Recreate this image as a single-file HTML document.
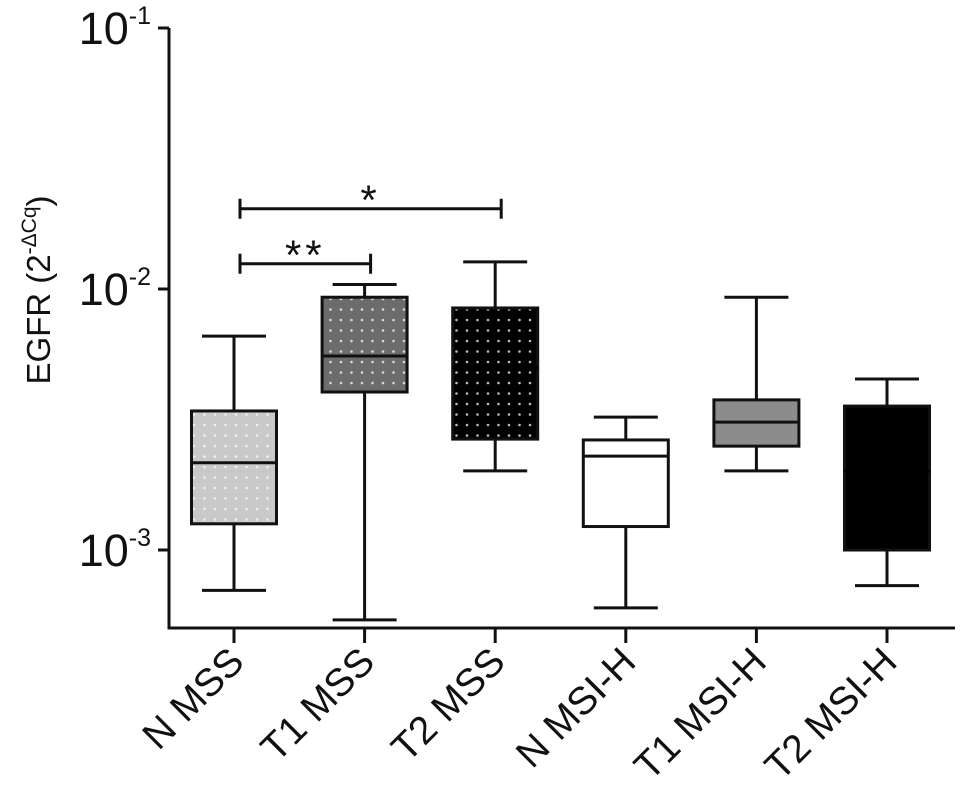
<!DOCTYPE html>
<html><head><meta charset="utf-8"><style>
html,body{margin:0;padding:0;background:#fff;}
svg{display:block;font-family:"Liberation Sans",Arial,sans-serif;}
</style></head><body>
<svg id="chart" width="969" height="803" viewBox="0 0 969 803">
<defs>
<pattern id="dotsLight" width="10.5" height="10.5" patternUnits="userSpaceOnUse"><rect width="10.5" height="10.5" fill="#c9c9c9"/><circle cx="5" cy="5" r="1.3" fill="#f0f0f0"/></pattern>
<pattern id="dotsMid" width="10.5" height="10.5" patternUnits="userSpaceOnUse"><rect width="10.5" height="10.5" fill="#6c6c6c"/><circle cx="5" cy="5" r="1.3" fill="#d8d8d8"/></pattern>
<pattern id="dotsDark" width="10.5" height="10.5" patternUnits="userSpaceOnUse"><rect width="10.5" height="10.5" fill="#000"/><circle cx="5" cy="5" r="1.3" fill="#bbb"/></pattern>
</defs>
<g id="plot"></g>
</svg>
<script>
const categories = ["N MSS","T1 MSS","T2 MSS","N MSI-H","T1 MSI-H","T2 MSI-H"];
const mins    = [0.00070,0.00054,0.00201,0.00060,0.00201,0.00073];
const q1s     = [0.00126,0.00403,0.00266,0.00123,0.00250,0.00100];
const medians = [0.00216,0.00554,0.00500,0.00229,0.00309,0.00200];
const q3s     = [0.00341,0.00930,0.00846,0.00264,0.00376,0.00356];
const maxs    = [0.0066,0.0104,0.0127,0.00323,0.0093,0.00452];
const fills   = ["url(#dotsLight)","url(#dotsMid)","url(#dotsDark)","#fff","#8c8c8c","#000"];
const tickExps = [-1,-2,-3];
const sigPairs = [[0,1,"**",0.0125],[0,2,"*",0.0203]];

const NS="http://www.w3.org/2000/svg";
const g=document.getElementById('plot');
const X0=169, YB=628, YTOP=28, LOGTOP=-1, DEC=261;
function yScale(v){return YTOP+(LOGTOP-Math.log10(v))*DEC;}
function xScale(i){return 234+i*130.6;}
function el(t,a,p){const e=document.createElementNS(NS,t);for(const k in a)e.setAttribute(k,a[k]);(p||g).appendChild(e);return e;}
const S={stroke:"#111","stroke-width":3,fill:"none"};

let a=el('path',Object.assign({d:`M${X0},${YTOP} V${YB} H955`},S));



tickExps.forEach(e=>{
  const y=yScale(Math.pow(10,e));
  const t=el('line',Object.assign({x1:X0-11,x2:X0,y1:y,y2:y},S));
  
  
  const tx=el('text',{x:151,y:y+16,"text-anchor":"end","font-size":45,fill:"#111"});
  
  
  tx.appendChild(document.createTextNode("10"));
  const sp=el('tspan',{"font-size":25,dy:-20},tx);sp.textContent="-"+(-e);
});

const yt=el('text',{transform:"translate(50,290) rotate(-90)","text-anchor":"middle","font-size":33,fill:"#111"});


yt.appendChild(document.createTextNode("EGFR (2"));
const ys=el('tspan',{"font-size":21,dy:-14},yt);ys.textContent="-ΔCq";
const ys2=el('tspan',{dy:14},yt);ys2.textContent=")";

categories.forEach((c,i)=>{
  const x=xScale(i), w=85, cap=64;
  const tk=el('line',Object.assign({x1:x,x2:x,y1:YB,y2:YB+15},S));
  
  
  const lb=el('text',{transform:`translate(${x+12},${664}) rotate(-45)`,"text-anchor":"end","font-size":39,fill:"#111"});
  
  
  lb.textContent=c;
  const wh=el('path',Object.assign({d:`M${x},${yScale(maxs[i])} V${yScale(q3s[i])} M${x},${yScale(q1s[i])} V${yScale(mins[i])} M${x-cap/2},${yScale(maxs[i])} h${cap} M${x-cap/2},${yScale(mins[i])} h${cap}`},S));
  
  
  const b=el('rect',{x:x-w/2,y:yScale(q3s[i]),width:w,height:yScale(q1s[i])-yScale(q3s[i]),fill:fills[i],stroke:"#111","stroke-width":3});
  
  
  const m=el('line',{x1:x-w/2,x2:x+w/2,y1:yScale(medians[i]),y2:yScale(medians[i]),stroke:(fills[i]==="#000"||fills[i]==="url(#dotsDark)")?"#000":"#111","stroke-width":3});
  
  
});

sigPairs.forEach(p=>{
  const x1=xScale(p[0])+6,x2=xScale(p[1])+6,y=yScale(p[3]);
  const br=el('path',Object.assign({d:`M${x1},${y-10} V${y+10} M${x1},${y} H${x2} M${x2},${y-10} V${y+10}`},S));
  
  
  const st=el('text',{x:(x1+x2)/2,y:y+6,"text-anchor":"middle","font-size":42,"letter-spacing":4,fill:"#111"});
  
  
  st.textContent=p[2];
});
</script>
</body></html>
